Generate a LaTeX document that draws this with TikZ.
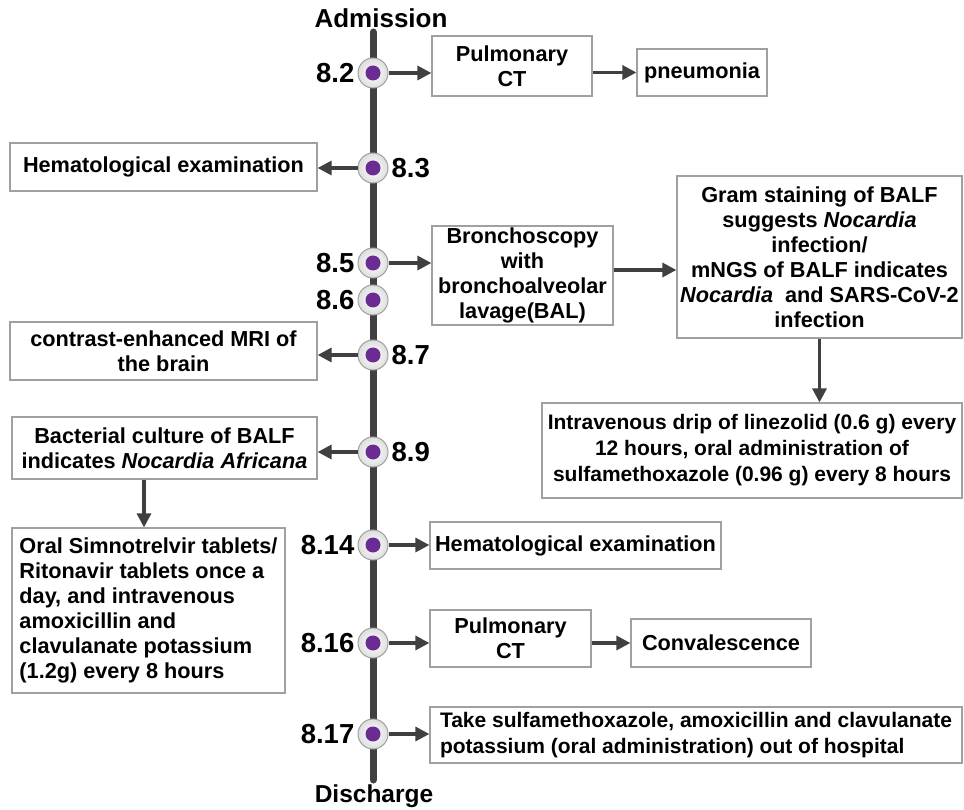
\documentclass[tikz,border=0pt]{standalone}
\usepackage{fontspec}
\setmainfont{Liberation Sans}
\usetikzlibrary{arrows.meta,positioning}
\definecolor{linegray}{HTML}{404040}
\definecolor{boxgray}{HTML}{A0A0A0}
\definecolor{dotpurple}{HTML}{6A2C92}
\begin{document}
\begin{tikzpicture}[x=1pt,y=-1pt,
        box/.style={draw=boxgray, line width=1.2pt, fill=white, align=center, inner sep=0pt,
            font=\bfseries\fontsize{21.7}{25}\selectfont},
        smalltext/.style={font=\bfseries\fontsize{21}{26}\selectfont},
        day/.style={circle, draw=boxgray, line width=1pt, inner color=white, outer color=black!13,
            minimum size=30pt, inner sep=0pt},
        datelabel/.style={font=\bfseries\fontsize{27.5}{32}\selectfont, inner sep=3pt},
        endlabel/.style={font=\bfseries\fontsize{24.5}{28}\selectfont, inner sep=0pt},
        link/.style={linegray, line width=3.2pt, -{Triangle[length=14pt,width=14pt]}}]
        \useasboundingbox (0, 0) rectangle (964, 810);
        \coordinate (top) at (373, 32);
        \coordinate (bottom) at (373, 780);
        \draw[linegray, line width=7pt, line cap=round] (top) -- (bottom);
        \node[endlabel, font=\bfseries\fontsize{26}{30}\selectfont] (admission) at (381, 18) {Admission};
        \node[endlabel] (discharge) at (374, 796) {Discharge};

        \node[day] (d82) at (373, 73) {};
        \node[day] (d83) at (373, 168) {};
        \node[day] (d85) at (373, 263) {};
        \node[day] (d86) at (373, 300) {};
        \node[day] (d87) at (373, 355) {};
        \node[day] (d89) at (373, 452) {};
        \node[day] (d814) at (373, 545) {};
        \node[day] (d816) at (373, 643) {};
        \node[day] (d817) at (373, 734) {};
        \foreach \d in {d82, d83, d85, d86, d87, d89, d814, d816, d817}
            \fill[dotpurple] (\d) circle (7.5pt);

        \node[datelabel, left=0pt of d82] (l82) {8.2};
        \node[datelabel, right=0pt of d83] (l83) {8.3};
        \node[datelabel, left=0pt of d85] (l85) {8.5};
        \node[datelabel, left=0pt of d86] (l86) {8.6};
        \node[datelabel, right=0pt of d87] (l87) {8.7};
        \node[datelabel, right=0pt of d89] (l89) {8.9};
        \node[datelabel, left=0pt of d814] (l814) {8.14};
        \node[datelabel, left=0pt of d816] (l816) {8.16};
        \node[datelabel, left=0pt of d817] (l817) {8.17};

        \node[box, minimum width=160, minimum height=60] (ct1) at (512, 66) {Pulmonary\\CT};
        \node[box, minimum width=130, minimum height=47] (pneu) at (702, 72.5) {pneumonia};
        \node[box, minimum width=307, minimum height=48] (hem1) at (163.5, 167) {Hematological examination};
        \node[box, minimum width=181, minimum height=99] (bron) at (522.5, 275.5)
            {Bronchoscopy\\with\\bronchoalveolar\\lavage(BAL)};
        \node[box, minimum width=285, minimum height=162] (gram) at (819.5, 257)
            {Gram staining of BALF\\suggests \textit{Nocardia}\\infection/\\mNGS of BALF indicates\\\textit{Nocardia}\ \ and SARS-CoV-2\\infection};
        \node[box, smalltext, minimum width=420, minimum height=95] (drip) at (752, 450.5)
            {Intravenous drip of linezolid (0.6 g) every\\12 hours, oral administration of\\sulfamethoxazole (0.96 g) every 8 hours};
        \node[box, minimum width=307, minimum height=58] (mri) at (163.5, 351)
            {contrast-enhanced MRI of\\the brain};
        \node[box, minimum width=305, minimum height=62] (bact) at (164.5, 448)
            {Bacterial culture of BALF\\indicates \textit{Nocardia Africana}};
        \node[box, minimum width=273, minimum height=165, align=left] (oral) at (148.5, 610.5)
            {Oral Simnotrelvir tablets/\\Ritonavir tablets once a\\day, and intravenous\\amoxicillin and\\clavulanate potassium\\(1.2g) every 8 hours};
        \node[box, minimum width=291, minimum height=47] (hem2) at (575.5, 545.5) {Hematological examination};
        \node[box, minimum width=161, minimum height=57] (ct2) at (510.5, 638.5) {Pulmonary\\CT};
        \node[box, minimum width=180, minimum height=48] (conv) at (721, 643) {Convalescence};
        \node[box, smalltext, minimum width=532, minimum height=56, align=left] (take) at (696, 735)
            {Take sulfamethoxazole, amoxicillin and clavulanate\\potassium (oral administration) out of hospital};

        \draw[link] (d82.east) -- (d82 -| ct1.west);
        \draw[link] (ct1.east |- pneu.west) -- (pneu.west);
        \draw[link] (d83.west) -- (d83 -| hem1.east);
        \draw[link] (d85.east) -- (d85 -| bron.west);
        \draw[link] (bron.east |- 0, 270) -- (gram.west |- 0, 270);
        \draw[link] (gram.south) -- (gram.south |- drip.north);
        \draw[link] (d87.west) -- (d87 -| mri.east);
        \draw[link] (d89.west) -- (d89 -| bact.east);
        \draw[link] ([xshift=-20.5pt]bact.south) -- ([xshift=-20.5pt]bact.south |- oral.north);
        \draw[link] (d814.east) -- (d814 -| hem2.west);
        \draw[link] (d816.east) -- (d816 -| ct2.west);
        \draw[link] (ct2.east |- conv.west) -- (conv.west);
        \draw[link] (d817.east) -- (d817 -| take.west);
    \end{tikzpicture}
\end{document}
